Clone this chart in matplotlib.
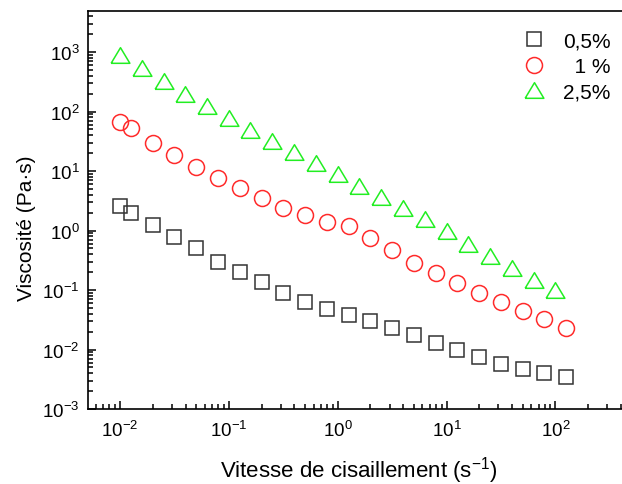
import numpy as np
import matplotlib.pyplot as plt
from matplotlib.ticker import LogLocator, NullFormatter

plt.rcParams['font.family'] = ['Liberation Sans', 'DejaVu Sans']
plt.rcParams['mathtext.fontset'] = 'custom'
plt.rcParams['mathtext.rm'] = 'Liberation Sans'

# shear rate (1/s)
shear_sq = [0.01, 0.0126, 0.02, 0.0316, 0.05, 0.0794, 0.126, 0.2, 0.316, 0.5, 0.794,
            1.26, 2.0, 3.16, 5.0, 7.94, 12.6, 20.0, 31.6, 50.0, 79.4, 126.0]
visc_05 = [2.55, 1.95, 1.24, 0.77, 0.50, 0.30, 0.203, 0.135, 0.090, 0.062, 0.048,
           0.038, 0.030, 0.0233, 0.0174, 0.0128, 0.0098, 0.0074, 0.0057, 0.0047, 0.0040, 0.0035]
visc_1 = [68, 52, 30, 18.6, 11.8, 7.6, 5.2, 3.5, 2.39, 1.85, 1.41,
          1.19, 0.76, 0.47, 0.29, 0.193, 0.13, 0.088, 0.062, 0.044, 0.032, 0.023]
shear_tri = [0.01, 0.0158, 0.0251, 0.0398, 0.0631, 0.1, 0.158, 0.251, 0.398, 0.631, 1.0,
             1.58, 2.51, 3.98, 6.31, 10.0, 15.8, 25.1, 39.8, 63.1, 100.0]
visc_25 = [880, 545, 326, 197, 124, 78, 49, 32, 20.8, 13.8, 8.9,
           5.6, 3.66, 2.42, 1.54, 0.98, 0.60, 0.378, 0.237, 0.149, 0.099]

fig = plt.figure(figsize=(6.22, 4.85), dpi=100)
ax = fig.add_axes([0.1415, 0.1546, 0.872, 0.8206])

tri = [(-1.2, -1), (1.2, -1), (0, 1), (-1.2, -1)]
ax.plot(shear_sq, visc_05, ls='none', marker='s', ms=9.5, mfc='none', mec='#333333', mew=1.1, label='0,5%')
ax.plot(shear_sq, visc_1, ls='none', marker='o', ms=11.5, mfc='none', mec='#ff2a2a', mew=1.1, label='  1 %')
ax.plot(shear_tri, visc_25, ls='none', marker=tri, ms=13.5, mfc='none', mec='#22ee22', mew=1.1, label='2,5%')

ax.set_xscale('log')
ax.set_yscale('log')
ax.set_xlim(0.00508, 489)
ax.set_ylim(1e-3, 4900)

ax.xaxis.set_major_locator(LogLocator(base=10, numticks=20))
ax.xaxis.set_minor_locator(LogLocator(base=10, subs=np.arange(2, 10), numticks=20))
ax.yaxis.set_major_locator(LogLocator(base=10, numticks=20))
ax.yaxis.set_minor_locator(LogLocator(base=10, subs=np.arange(2, 10), numticks=20))
ax.xaxis.set_minor_formatter(NullFormatter())
ax.yaxis.set_minor_formatter(NullFormatter())

ax.tick_params(which='both', direction='in', top=False, right=False, width=1.1)
ax.tick_params(which='major', length=6, labelsize=13.5)
ax.tick_params(which='minor', length=3.5)
ax.tick_params(axis='y', which='major', pad=6)
ax.tick_params(axis='x', which='major', pad=8)

for s in ['left', 'bottom', 'top']:
    ax.spines[s].set_linewidth(1.2)
ax.spines['right'].set_visible(False)

ax.set_xlabel('Vitesse de cisaillement (s$^{-1}$)', fontsize=16, labelpad=10)
ax.set_ylabel('Viscosité (Pa·s)', fontsize=15)
ax.yaxis.set_label_coords(-0.095, 0.457)

ax.legend(loc='upper right', bbox_to_anchor=(0.99, 0.985), frameon=False, fontsize=15,
          handletextpad=0.4, labelspacing=0.3, borderaxespad=0.3)

fig.savefig('out.png', dpi=100, facecolor='white')
